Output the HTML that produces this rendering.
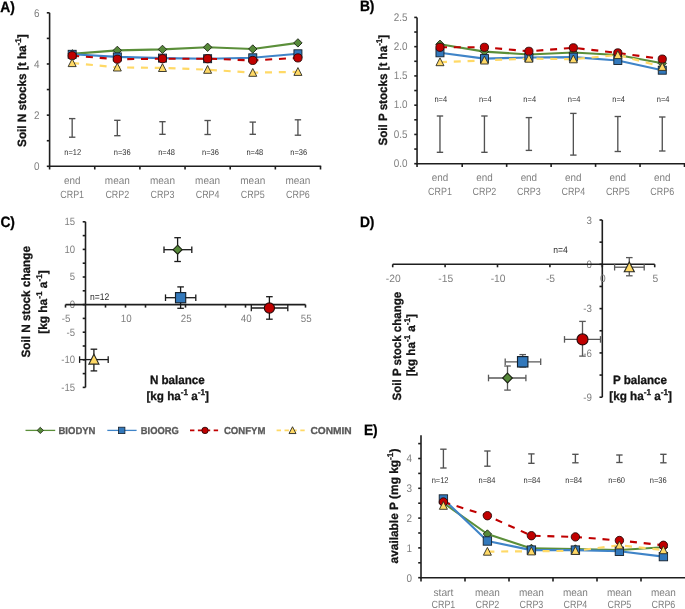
<!DOCTYPE html><html><head><meta charset="utf-8"><style>html,body{margin:0;padding:0;background:#fff;width:685px;height:609px;overflow:hidden;position:relative;}text{font-family:"Liberation Sans", sans-serif;text-rendering:geometricPrecision;}</style></head><body><svg width="685" height="609" viewBox="0 0 685 609" style="position:absolute;left:0;top:0;filter:blur(0.4px)">
<rect width="685" height="609" fill="#ffffff"/>
<text x="0.00" y="0.00" font-size="15" text-anchor="start" fill="#000" font-weight="bold" transform="translate(0.30 12.00) scale(0.92 1)" stroke="#000" stroke-width="0.3">A)</text>
<line x1="49.60" y1="12.82" x2="49.60" y2="166.90" stroke="#1e1e1e" stroke-width="1.6" stroke-linecap="butt"/>
<line x1="46.80" y1="166.30" x2="49.60" y2="166.30" stroke="#1e1e1e" stroke-width="1.6" stroke-linecap="butt"/>
<line x1="46.80" y1="140.72" x2="49.60" y2="140.72" stroke="#1e1e1e" stroke-width="1.6" stroke-linecap="butt"/>
<line x1="46.80" y1="115.14" x2="49.60" y2="115.14" stroke="#1e1e1e" stroke-width="1.6" stroke-linecap="butt"/>
<line x1="46.80" y1="89.56" x2="49.60" y2="89.56" stroke="#1e1e1e" stroke-width="1.6" stroke-linecap="butt"/>
<line x1="46.80" y1="63.98" x2="49.60" y2="63.98" stroke="#1e1e1e" stroke-width="1.6" stroke-linecap="butt"/>
<line x1="46.80" y1="38.40" x2="49.60" y2="38.40" stroke="#1e1e1e" stroke-width="1.6" stroke-linecap="butt"/>
<line x1="46.80" y1="12.82" x2="49.60" y2="12.82" stroke="#1e1e1e" stroke-width="1.6" stroke-linecap="butt"/>
<text x="0.00" y="0.00" font-size="11" text-anchor="end" fill="#7f7f7f" font-weight="normal" transform="translate(39.40 170.20) scale(0.9 1)">0</text>
<text x="0.00" y="0.00" font-size="11" text-anchor="end" fill="#7f7f7f" font-weight="normal" transform="translate(39.40 119.04) scale(0.9 1)">2</text>
<text x="0.00" y="0.00" font-size="11" text-anchor="end" fill="#7f7f7f" font-weight="normal" transform="translate(39.40 67.88) scale(0.9 1)">4</text>
<text x="0.00" y="0.00" font-size="11" text-anchor="end" fill="#7f7f7f" font-weight="normal" transform="translate(39.40 16.72) scale(0.9 1)">6</text>
<line x1="49.00" y1="166.30" x2="321.20" y2="166.30" stroke="#1e1e1e" stroke-width="1.6" stroke-linecap="butt"/>
<line x1="49.60" y1="166.30" x2="49.60" y2="169.50" stroke="#1e1e1e" stroke-width="1.6" stroke-linecap="butt"/>
<line x1="94.75" y1="166.30" x2="94.75" y2="169.50" stroke="#1e1e1e" stroke-width="1.6" stroke-linecap="butt"/>
<line x1="139.90" y1="166.30" x2="139.90" y2="169.50" stroke="#1e1e1e" stroke-width="1.6" stroke-linecap="butt"/>
<line x1="185.05" y1="166.30" x2="185.05" y2="169.50" stroke="#1e1e1e" stroke-width="1.6" stroke-linecap="butt"/>
<line x1="230.20" y1="166.30" x2="230.20" y2="169.50" stroke="#1e1e1e" stroke-width="1.6" stroke-linecap="butt"/>
<line x1="275.35" y1="166.30" x2="275.35" y2="169.50" stroke="#1e1e1e" stroke-width="1.6" stroke-linecap="butt"/>
<line x1="320.50" y1="166.30" x2="320.50" y2="169.50" stroke="#1e1e1e" stroke-width="1.6" stroke-linecap="butt"/>
<text x="72.17" y="184.20" font-size="10.5" text-anchor="middle" fill="#7f7f7f" font-weight="normal" textLength="16.5" lengthAdjust="spacingAndGlyphs">end</text>
<text x="72.17" y="197.80" font-size="10.5" text-anchor="middle" fill="#7f7f7f" font-weight="normal" textLength="23.8" lengthAdjust="spacingAndGlyphs">CRP1</text>
<text x="117.32" y="184.20" font-size="10.5" text-anchor="middle" fill="#7f7f7f" font-weight="normal" textLength="25" lengthAdjust="spacingAndGlyphs">mean</text>
<text x="117.32" y="197.80" font-size="10.5" text-anchor="middle" fill="#7f7f7f" font-weight="normal" textLength="23.8" lengthAdjust="spacingAndGlyphs">CRP2</text>
<text x="162.47" y="184.20" font-size="10.5" text-anchor="middle" fill="#7f7f7f" font-weight="normal" textLength="25" lengthAdjust="spacingAndGlyphs">mean</text>
<text x="162.47" y="197.80" font-size="10.5" text-anchor="middle" fill="#7f7f7f" font-weight="normal" textLength="23.8" lengthAdjust="spacingAndGlyphs">CRP3</text>
<text x="207.62" y="184.20" font-size="10.5" text-anchor="middle" fill="#7f7f7f" font-weight="normal" textLength="25" lengthAdjust="spacingAndGlyphs">mean</text>
<text x="207.62" y="197.80" font-size="10.5" text-anchor="middle" fill="#7f7f7f" font-weight="normal" textLength="23.8" lengthAdjust="spacingAndGlyphs">CRP4</text>
<text x="252.77" y="184.20" font-size="10.5" text-anchor="middle" fill="#7f7f7f" font-weight="normal" textLength="25" lengthAdjust="spacingAndGlyphs">mean</text>
<text x="252.77" y="197.80" font-size="10.5" text-anchor="middle" fill="#7f7f7f" font-weight="normal" textLength="23.8" lengthAdjust="spacingAndGlyphs">CRP5</text>
<text x="297.93" y="184.20" font-size="10.5" text-anchor="middle" fill="#7f7f7f" font-weight="normal" textLength="25" lengthAdjust="spacingAndGlyphs">mean</text>
<text x="297.93" y="197.80" font-size="10.5" text-anchor="middle" fill="#7f7f7f" font-weight="normal" textLength="23.8" lengthAdjust="spacingAndGlyphs">CRP6</text>
<text x="26.20" y="90.60" font-size="12" text-anchor="middle" fill="#141414" font-weight="bold" textLength="112.6" lengthAdjust="spacingAndGlyphs" transform="rotate(-90 26.20 90.60)" stroke="#141414" stroke-width="0.3">Soil N stocks [t ha<tspan baseline-shift="super" font-size="70%">-1</tspan>]</text>
<line x1="72.17" y1="118.60" x2="72.17" y2="137.20" stroke="#525252" stroke-width="1.35" stroke-linecap="butt"/>
<line x1="68.97" y1="118.60" x2="75.38" y2="118.60" stroke="#525252" stroke-width="1.35" stroke-linecap="butt"/>
<line x1="68.97" y1="137.20" x2="75.38" y2="137.20" stroke="#525252" stroke-width="1.35" stroke-linecap="butt"/>
<line x1="117.32" y1="120.30" x2="117.32" y2="135.70" stroke="#525252" stroke-width="1.35" stroke-linecap="butt"/>
<line x1="114.12" y1="120.30" x2="120.52" y2="120.30" stroke="#525252" stroke-width="1.35" stroke-linecap="butt"/>
<line x1="114.12" y1="135.70" x2="120.52" y2="135.70" stroke="#525252" stroke-width="1.35" stroke-linecap="butt"/>
<line x1="162.47" y1="121.70" x2="162.47" y2="134.30" stroke="#525252" stroke-width="1.35" stroke-linecap="butt"/>
<line x1="159.28" y1="121.70" x2="165.67" y2="121.70" stroke="#525252" stroke-width="1.35" stroke-linecap="butt"/>
<line x1="159.28" y1="134.30" x2="165.67" y2="134.30" stroke="#525252" stroke-width="1.35" stroke-linecap="butt"/>
<line x1="207.62" y1="120.50" x2="207.62" y2="134.50" stroke="#525252" stroke-width="1.35" stroke-linecap="butt"/>
<line x1="204.43" y1="120.50" x2="210.82" y2="120.50" stroke="#525252" stroke-width="1.35" stroke-linecap="butt"/>
<line x1="204.43" y1="134.50" x2="210.82" y2="134.50" stroke="#525252" stroke-width="1.35" stroke-linecap="butt"/>
<line x1="252.77" y1="122.10" x2="252.77" y2="134.30" stroke="#525252" stroke-width="1.35" stroke-linecap="butt"/>
<line x1="249.57" y1="122.10" x2="255.97" y2="122.10" stroke="#525252" stroke-width="1.35" stroke-linecap="butt"/>
<line x1="249.57" y1="134.30" x2="255.97" y2="134.30" stroke="#525252" stroke-width="1.35" stroke-linecap="butt"/>
<line x1="297.93" y1="119.80" x2="297.93" y2="135.20" stroke="#525252" stroke-width="1.35" stroke-linecap="butt"/>
<line x1="294.73" y1="119.80" x2="301.12" y2="119.80" stroke="#525252" stroke-width="1.35" stroke-linecap="butt"/>
<line x1="294.73" y1="135.20" x2="301.12" y2="135.20" stroke="#525252" stroke-width="1.35" stroke-linecap="butt"/>
<text x="0.00" y="0.00" font-size="8.3" text-anchor="middle" fill="#2e2e2e" font-weight="normal" transform="translate(72.70 154.70) scale(0.9 1)">n=12</text>
<text x="0.00" y="0.00" font-size="8.3" text-anchor="middle" fill="#2e2e2e" font-weight="normal" transform="translate(122.20 154.70) scale(0.9 1)">n=36</text>
<text x="0.00" y="0.00" font-size="8.3" text-anchor="middle" fill="#2e2e2e" font-weight="normal" transform="translate(166.60 154.70) scale(0.9 1)">n=48</text>
<text x="0.00" y="0.00" font-size="8.3" text-anchor="middle" fill="#2e2e2e" font-weight="normal" transform="translate(210.40 154.70) scale(0.9 1)">n=36</text>
<text x="0.00" y="0.00" font-size="8.3" text-anchor="middle" fill="#2e2e2e" font-weight="normal" transform="translate(254.80 154.70) scale(0.9 1)">n=48</text>
<text x="0.00" y="0.00" font-size="8.3" text-anchor="middle" fill="#2e2e2e" font-weight="normal" transform="translate(298.70 154.70) scale(0.9 1)">n=36</text>
<polyline points="72.17,53.90 117.32,50.40 162.47,49.40 207.62,47.30 252.77,49.00 297.93,42.90" fill="none" stroke="#5b8f3a" stroke-width="2.1" stroke-linejoin="round"/>
<polyline points="72.17,54.30 117.32,56.90 162.47,58.10 207.62,58.70 252.77,57.80 297.93,53.80" fill="none" stroke="#3f84c8" stroke-width="2.1" stroke-linejoin="round"/>
<polyline points="72.17,55.70 117.32,59.20 162.47,58.70 207.62,58.70 252.77,60.40 297.93,57.90" fill="none" stroke="#c00000" stroke-width="2.1" stroke-linejoin="round" stroke-dasharray="7,6.8"/>
<polyline points="72.17,63.00 117.32,67.40 162.47,67.90 207.62,69.70 252.77,72.70 297.93,71.80" fill="none" stroke="#ffd966" stroke-width="2.2" stroke-linejoin="round" stroke-dasharray="7,6.8"/>
<polygon points="72.17,49.70 76.38,53.90 72.17,58.10 67.97,53.90" fill="#578a3a" stroke="#1c2414" stroke-width="0.9"/>
<polygon points="117.32,46.20 121.52,50.40 117.32,54.60 113.12,50.40" fill="#578a3a" stroke="#1c2414" stroke-width="0.9"/>
<polygon points="162.47,45.20 166.67,49.40 162.47,53.60 158.28,49.40" fill="#578a3a" stroke="#1c2414" stroke-width="0.9"/>
<polygon points="207.62,43.10 211.82,47.30 207.62,51.50 203.43,47.30" fill="#578a3a" stroke="#1c2414" stroke-width="0.9"/>
<polygon points="252.77,44.80 256.97,49.00 252.77,53.20 248.57,49.00" fill="#578a3a" stroke="#1c2414" stroke-width="0.9"/>
<polygon points="297.93,38.70 302.12,42.90 297.93,47.10 293.73,42.90" fill="#578a3a" stroke="#1c2414" stroke-width="0.9"/>
<rect x="68.17" y="50.30" width="8.00" height="8.00" fill="#3278bb" stroke="#14202c" stroke-width="0.9"/>
<rect x="113.32" y="52.90" width="8.00" height="8.00" fill="#3278bb" stroke="#14202c" stroke-width="0.9"/>
<rect x="158.47" y="54.10" width="8.00" height="8.00" fill="#3278bb" stroke="#14202c" stroke-width="0.9"/>
<rect x="203.62" y="54.70" width="8.00" height="8.00" fill="#3278bb" stroke="#14202c" stroke-width="0.9"/>
<rect x="248.77" y="53.80" width="8.00" height="8.00" fill="#3278bb" stroke="#14202c" stroke-width="0.9"/>
<rect x="293.93" y="49.80" width="8.00" height="8.00" fill="#3278bb" stroke="#14202c" stroke-width="0.9"/>
<circle cx="72.17" cy="55.70" r="4.10" fill="#c00000" stroke="#2a0808" stroke-width="0.9"/>
<circle cx="117.32" cy="59.20" r="4.10" fill="#c00000" stroke="#2a0808" stroke-width="0.9"/>
<circle cx="162.47" cy="58.70" r="4.10" fill="#c00000" stroke="#2a0808" stroke-width="0.9"/>
<circle cx="207.62" cy="58.70" r="4.10" fill="#c00000" stroke="#2a0808" stroke-width="0.9"/>
<circle cx="252.77" cy="60.40" r="4.10" fill="#c00000" stroke="#2a0808" stroke-width="0.9"/>
<circle cx="297.93" cy="57.90" r="4.10" fill="#c00000" stroke="#2a0808" stroke-width="0.9"/>
<polygon points="72.17,58.80 76.17,66.60 68.17,66.60" fill="#ffd966" stroke="#2a2a22" stroke-width="0.9" stroke-linejoin="miter"/>
<polygon points="117.32,63.20 121.32,71.00 113.32,71.00" fill="#ffd966" stroke="#2a2a22" stroke-width="0.9" stroke-linejoin="miter"/>
<polygon points="162.47,63.70 166.47,71.50 158.47,71.50" fill="#ffd966" stroke="#2a2a22" stroke-width="0.9" stroke-linejoin="miter"/>
<polygon points="207.62,65.50 211.62,73.30 203.62,73.30" fill="#ffd966" stroke="#2a2a22" stroke-width="0.9" stroke-linejoin="miter"/>
<polygon points="252.77,68.50 256.77,76.30 248.77,76.30" fill="#ffd966" stroke="#2a2a22" stroke-width="0.9" stroke-linejoin="miter"/>
<polygon points="297.93,67.60 301.93,75.40 293.93,75.40" fill="#ffd966" stroke="#2a2a22" stroke-width="0.9" stroke-linejoin="miter"/>
<text x="0.00" y="0.00" font-size="15" text-anchor="start" fill="#000" font-weight="bold" transform="translate(359.90 10.90) scale(0.92 1)" stroke="#000" stroke-width="0.3">B)</text>
<line x1="417.05" y1="17.40" x2="417.05" y2="164.30" stroke="#1e1e1e" stroke-width="1.6" stroke-linecap="butt"/>
<line x1="414.25" y1="163.70" x2="417.05" y2="163.70" stroke="#1e1e1e" stroke-width="1.6" stroke-linecap="butt"/>
<line x1="414.25" y1="149.07" x2="417.05" y2="149.07" stroke="#1e1e1e" stroke-width="1.6" stroke-linecap="butt"/>
<line x1="414.25" y1="134.44" x2="417.05" y2="134.44" stroke="#1e1e1e" stroke-width="1.6" stroke-linecap="butt"/>
<line x1="414.25" y1="119.81" x2="417.05" y2="119.81" stroke="#1e1e1e" stroke-width="1.6" stroke-linecap="butt"/>
<line x1="414.25" y1="105.18" x2="417.05" y2="105.18" stroke="#1e1e1e" stroke-width="1.6" stroke-linecap="butt"/>
<line x1="414.25" y1="90.55" x2="417.05" y2="90.55" stroke="#1e1e1e" stroke-width="1.6" stroke-linecap="butt"/>
<line x1="414.25" y1="75.92" x2="417.05" y2="75.92" stroke="#1e1e1e" stroke-width="1.6" stroke-linecap="butt"/>
<line x1="414.25" y1="61.29" x2="417.05" y2="61.29" stroke="#1e1e1e" stroke-width="1.6" stroke-linecap="butt"/>
<line x1="414.25" y1="46.66" x2="417.05" y2="46.66" stroke="#1e1e1e" stroke-width="1.6" stroke-linecap="butt"/>
<line x1="414.25" y1="32.03" x2="417.05" y2="32.03" stroke="#1e1e1e" stroke-width="1.6" stroke-linecap="butt"/>
<line x1="414.25" y1="17.40" x2="417.05" y2="17.40" stroke="#1e1e1e" stroke-width="1.6" stroke-linecap="butt"/>
<text x="0.00" y="0.00" font-size="11" text-anchor="end" fill="#7f7f7f" font-weight="normal" transform="translate(407.50 167.00) scale(0.9 1)">0.0</text>
<text x="0.00" y="0.00" font-size="11" text-anchor="end" fill="#7f7f7f" font-weight="normal" transform="translate(407.50 137.74) scale(0.9 1)">0.5</text>
<text x="0.00" y="0.00" font-size="11" text-anchor="end" fill="#7f7f7f" font-weight="normal" transform="translate(407.50 108.48) scale(0.9 1)">1.0</text>
<text x="0.00" y="0.00" font-size="11" text-anchor="end" fill="#7f7f7f" font-weight="normal" transform="translate(407.50 79.22) scale(0.9 1)">1.5</text>
<text x="0.00" y="0.00" font-size="11" text-anchor="end" fill="#7f7f7f" font-weight="normal" transform="translate(407.50 49.96) scale(0.9 1)">2.0</text>
<text x="0.00" y="0.00" font-size="11" text-anchor="end" fill="#7f7f7f" font-weight="normal" transform="translate(407.50 20.70) scale(0.9 1)">2.5</text>
<line x1="416.45" y1="163.70" x2="685.00" y2="163.70" stroke="#1e1e1e" stroke-width="1.6" stroke-linecap="butt"/>
<line x1="417.05" y1="163.70" x2="417.05" y2="166.90" stroke="#1e1e1e" stroke-width="1.6" stroke-linecap="butt"/>
<line x1="462.20" y1="163.70" x2="462.20" y2="166.90" stroke="#1e1e1e" stroke-width="1.6" stroke-linecap="butt"/>
<line x1="506.66" y1="163.70" x2="506.66" y2="166.90" stroke="#1e1e1e" stroke-width="1.6" stroke-linecap="butt"/>
<line x1="551.12" y1="163.70" x2="551.12" y2="166.90" stroke="#1e1e1e" stroke-width="1.6" stroke-linecap="butt"/>
<line x1="595.58" y1="163.70" x2="595.58" y2="166.90" stroke="#1e1e1e" stroke-width="1.6" stroke-linecap="butt"/>
<line x1="640.04" y1="163.70" x2="640.04" y2="166.90" stroke="#1e1e1e" stroke-width="1.6" stroke-linecap="butt"/>
<line x1="684.50" y1="163.70" x2="684.50" y2="166.90" stroke="#1e1e1e" stroke-width="1.6" stroke-linecap="butt"/>
<text x="439.97" y="181.20" font-size="10.5" text-anchor="middle" fill="#7f7f7f" font-weight="normal" textLength="16.5" lengthAdjust="spacingAndGlyphs">end</text>
<text x="439.97" y="194.90" font-size="10.5" text-anchor="middle" fill="#7f7f7f" font-weight="normal" textLength="23.8" lengthAdjust="spacingAndGlyphs">CRP1</text>
<text x="484.43" y="181.20" font-size="10.5" text-anchor="middle" fill="#7f7f7f" font-weight="normal" textLength="16.5" lengthAdjust="spacingAndGlyphs">end</text>
<text x="484.43" y="194.90" font-size="10.5" text-anchor="middle" fill="#7f7f7f" font-weight="normal" textLength="23.8" lengthAdjust="spacingAndGlyphs">CRP2</text>
<text x="528.89" y="181.20" font-size="10.5" text-anchor="middle" fill="#7f7f7f" font-weight="normal" textLength="16.5" lengthAdjust="spacingAndGlyphs">end</text>
<text x="528.89" y="194.90" font-size="10.5" text-anchor="middle" fill="#7f7f7f" font-weight="normal" textLength="23.8" lengthAdjust="spacingAndGlyphs">CRP3</text>
<text x="573.35" y="181.20" font-size="10.5" text-anchor="middle" fill="#7f7f7f" font-weight="normal" textLength="16.5" lengthAdjust="spacingAndGlyphs">end</text>
<text x="573.35" y="194.90" font-size="10.5" text-anchor="middle" fill="#7f7f7f" font-weight="normal" textLength="23.8" lengthAdjust="spacingAndGlyphs">CRP4</text>
<text x="617.81" y="181.20" font-size="10.5" text-anchor="middle" fill="#7f7f7f" font-weight="normal" textLength="16.5" lengthAdjust="spacingAndGlyphs">end</text>
<text x="617.81" y="194.90" font-size="10.5" text-anchor="middle" fill="#7f7f7f" font-weight="normal" textLength="23.8" lengthAdjust="spacingAndGlyphs">CRP5</text>
<text x="662.27" y="181.20" font-size="10.5" text-anchor="middle" fill="#7f7f7f" font-weight="normal" textLength="16.5" lengthAdjust="spacingAndGlyphs">end</text>
<text x="662.27" y="194.90" font-size="10.5" text-anchor="middle" fill="#7f7f7f" font-weight="normal" textLength="23.8" lengthAdjust="spacingAndGlyphs">CRP6</text>
<text x="387.30" y="90.20" font-size="12" text-anchor="middle" fill="#141414" font-weight="bold" textLength="110.8" lengthAdjust="spacingAndGlyphs" transform="rotate(-90 387.30 90.20)" stroke="#141414" stroke-width="0.3">Soil P stocks [t ha<tspan baseline-shift="super" font-size="70%">-1</tspan>]</text>
<line x1="439.97" y1="116.00" x2="439.97" y2="152.30" stroke="#525252" stroke-width="1.35" stroke-linecap="butt"/>
<line x1="436.77" y1="116.00" x2="443.17" y2="116.00" stroke="#525252" stroke-width="1.35" stroke-linecap="butt"/>
<line x1="436.77" y1="152.30" x2="443.17" y2="152.30" stroke="#525252" stroke-width="1.35" stroke-linecap="butt"/>
<line x1="484.43" y1="116.00" x2="484.43" y2="152.30" stroke="#525252" stroke-width="1.35" stroke-linecap="butt"/>
<line x1="481.23" y1="116.00" x2="487.63" y2="116.00" stroke="#525252" stroke-width="1.35" stroke-linecap="butt"/>
<line x1="481.23" y1="152.30" x2="487.63" y2="152.30" stroke="#525252" stroke-width="1.35" stroke-linecap="butt"/>
<line x1="528.89" y1="117.60" x2="528.89" y2="150.40" stroke="#525252" stroke-width="1.35" stroke-linecap="butt"/>
<line x1="525.69" y1="117.60" x2="532.09" y2="117.60" stroke="#525252" stroke-width="1.35" stroke-linecap="butt"/>
<line x1="525.69" y1="150.40" x2="532.09" y2="150.40" stroke="#525252" stroke-width="1.35" stroke-linecap="butt"/>
<line x1="573.35" y1="113.40" x2="573.35" y2="155.10" stroke="#525252" stroke-width="1.35" stroke-linecap="butt"/>
<line x1="570.15" y1="113.40" x2="576.55" y2="113.40" stroke="#525252" stroke-width="1.35" stroke-linecap="butt"/>
<line x1="570.15" y1="155.10" x2="576.55" y2="155.10" stroke="#525252" stroke-width="1.35" stroke-linecap="butt"/>
<line x1="617.81" y1="116.50" x2="617.81" y2="151.50" stroke="#525252" stroke-width="1.35" stroke-linecap="butt"/>
<line x1="614.61" y1="116.50" x2="621.01" y2="116.50" stroke="#525252" stroke-width="1.35" stroke-linecap="butt"/>
<line x1="614.61" y1="151.50" x2="621.01" y2="151.50" stroke="#525252" stroke-width="1.35" stroke-linecap="butt"/>
<line x1="662.27" y1="117.00" x2="662.27" y2="151.00" stroke="#525252" stroke-width="1.35" stroke-linecap="butt"/>
<line x1="659.07" y1="117.00" x2="665.47" y2="117.00" stroke="#525252" stroke-width="1.35" stroke-linecap="butt"/>
<line x1="659.07" y1="151.00" x2="665.47" y2="151.00" stroke="#525252" stroke-width="1.35" stroke-linecap="butt"/>
<text x="0.00" y="0.00" font-size="8.3" text-anchor="middle" fill="#2e2e2e" font-weight="normal" transform="translate(440.77 102.30) scale(0.9 1)">n=4</text>
<text x="0.00" y="0.00" font-size="8.3" text-anchor="middle" fill="#2e2e2e" font-weight="normal" transform="translate(485.23 102.30) scale(0.9 1)">n=4</text>
<text x="0.00" y="0.00" font-size="8.3" text-anchor="middle" fill="#2e2e2e" font-weight="normal" transform="translate(529.69 102.30) scale(0.9 1)">n=4</text>
<text x="0.00" y="0.00" font-size="8.3" text-anchor="middle" fill="#2e2e2e" font-weight="normal" transform="translate(574.15 102.30) scale(0.9 1)">n=4</text>
<text x="0.00" y="0.00" font-size="8.3" text-anchor="middle" fill="#2e2e2e" font-weight="normal" transform="translate(618.61 102.30) scale(0.9 1)">n=4</text>
<text x="0.00" y="0.00" font-size="8.3" text-anchor="middle" fill="#2e2e2e" font-weight="normal" transform="translate(663.07 102.30) scale(0.9 1)">n=4</text>
<polyline points="439.97,44.30 484.43,51.60 528.89,54.50 573.35,52.50 617.81,55.00 662.27,63.30" fill="none" stroke="#5b8f3a" stroke-width="2.1" stroke-linejoin="round"/>
<polyline points="439.97,52.80 484.43,58.60 528.89,57.50 573.35,57.10 617.81,60.50 662.27,70.20" fill="none" stroke="#3f84c8" stroke-width="2.1" stroke-linejoin="round"/>
<polyline points="439.97,47.30 484.43,47.30 528.89,51.30 573.35,47.80 617.81,52.90 662.27,59.10" fill="none" stroke="#c00000" stroke-width="2.1" stroke-linejoin="round" stroke-dasharray="7,6.8"/>
<polyline points="439.97,62.10 484.43,60.40 528.89,58.60 573.35,59.20 617.81,55.00 662.27,66.80" fill="none" stroke="#ffd966" stroke-width="2.2" stroke-linejoin="round" stroke-dasharray="7,6.8"/>
<polygon points="439.97,40.10 444.17,44.30 439.97,48.50 435.77,44.30" fill="#578a3a" stroke="#1c2414" stroke-width="0.9"/>
<polygon points="484.43,47.40 488.63,51.60 484.43,55.80 480.23,51.60" fill="#578a3a" stroke="#1c2414" stroke-width="0.9"/>
<polygon points="528.89,50.30 533.09,54.50 528.89,58.70 524.69,54.50" fill="#578a3a" stroke="#1c2414" stroke-width="0.9"/>
<polygon points="573.35,48.30 577.55,52.50 573.35,56.70 569.15,52.50" fill="#578a3a" stroke="#1c2414" stroke-width="0.9"/>
<polygon points="617.81,50.80 622.01,55.00 617.81,59.20 613.61,55.00" fill="#578a3a" stroke="#1c2414" stroke-width="0.9"/>
<polygon points="662.27,59.10 666.47,63.30 662.27,67.50 658.07,63.30" fill="#578a3a" stroke="#1c2414" stroke-width="0.9"/>
<rect x="435.97" y="48.80" width="8.00" height="8.00" fill="#3278bb" stroke="#14202c" stroke-width="0.9"/>
<rect x="480.43" y="54.60" width="8.00" height="8.00" fill="#3278bb" stroke="#14202c" stroke-width="0.9"/>
<rect x="524.89" y="53.50" width="8.00" height="8.00" fill="#3278bb" stroke="#14202c" stroke-width="0.9"/>
<rect x="569.35" y="53.10" width="8.00" height="8.00" fill="#3278bb" stroke="#14202c" stroke-width="0.9"/>
<rect x="613.81" y="56.50" width="8.00" height="8.00" fill="#3278bb" stroke="#14202c" stroke-width="0.9"/>
<rect x="658.27" y="66.20" width="8.00" height="8.00" fill="#3278bb" stroke="#14202c" stroke-width="0.9"/>
<circle cx="439.97" cy="47.30" r="4.10" fill="#c00000" stroke="#2a0808" stroke-width="0.9"/>
<circle cx="484.43" cy="47.30" r="4.10" fill="#c00000" stroke="#2a0808" stroke-width="0.9"/>
<circle cx="528.89" cy="51.30" r="4.10" fill="#c00000" stroke="#2a0808" stroke-width="0.9"/>
<circle cx="573.35" cy="47.80" r="4.10" fill="#c00000" stroke="#2a0808" stroke-width="0.9"/>
<circle cx="617.81" cy="52.90" r="4.10" fill="#c00000" stroke="#2a0808" stroke-width="0.9"/>
<circle cx="662.27" cy="59.10" r="4.10" fill="#c00000" stroke="#2a0808" stroke-width="0.9"/>
<polygon points="439.97,57.90 443.97,65.70 435.97,65.70" fill="#ffd966" stroke="#2a2a22" stroke-width="0.9" stroke-linejoin="miter"/>
<polygon points="484.43,56.20 488.43,64.00 480.43,64.00" fill="#ffd966" stroke="#2a2a22" stroke-width="0.9" stroke-linejoin="miter"/>
<polygon points="528.89,54.40 532.89,62.20 524.89,62.20" fill="#ffd966" stroke="#2a2a22" stroke-width="0.9" stroke-linejoin="miter"/>
<polygon points="573.35,55.00 577.35,62.80 569.35,62.80" fill="#ffd966" stroke="#2a2a22" stroke-width="0.9" stroke-linejoin="miter"/>
<polygon points="617.81,50.80 621.81,58.60 613.81,58.60" fill="#ffd966" stroke="#2a2a22" stroke-width="0.9" stroke-linejoin="miter"/>
<polygon points="662.27,62.60 666.27,70.40 658.27,70.40" fill="#ffd966" stroke="#2a2a22" stroke-width="0.9" stroke-linejoin="miter"/>
<text x="0.00" y="0.00" font-size="15" text-anchor="start" fill="#000" font-weight="bold" transform="translate(0.40 226.90) scale(0.92 1)" stroke="#000" stroke-width="0.3">C)</text>
<line x1="85.50" y1="221.80" x2="85.50" y2="387.40" stroke="#1e1e1e" stroke-width="1.6" stroke-linecap="butt"/>
<line x1="82.70" y1="387.40" x2="85.50" y2="387.40" stroke="#1e1e1e" stroke-width="1.6" stroke-linecap="butt"/>
<line x1="82.70" y1="373.60" x2="85.50" y2="373.60" stroke="#1e1e1e" stroke-width="1.6" stroke-linecap="butt"/>
<line x1="82.70" y1="359.80" x2="85.50" y2="359.80" stroke="#1e1e1e" stroke-width="1.6" stroke-linecap="butt"/>
<line x1="82.70" y1="346.00" x2="85.50" y2="346.00" stroke="#1e1e1e" stroke-width="1.6" stroke-linecap="butt"/>
<line x1="82.70" y1="332.20" x2="85.50" y2="332.20" stroke="#1e1e1e" stroke-width="1.6" stroke-linecap="butt"/>
<line x1="82.70" y1="318.40" x2="85.50" y2="318.40" stroke="#1e1e1e" stroke-width="1.6" stroke-linecap="butt"/>
<line x1="82.70" y1="304.60" x2="85.50" y2="304.60" stroke="#1e1e1e" stroke-width="1.6" stroke-linecap="butt"/>
<line x1="82.70" y1="290.80" x2="85.50" y2="290.80" stroke="#1e1e1e" stroke-width="1.6" stroke-linecap="butt"/>
<line x1="82.70" y1="277.00" x2="85.50" y2="277.00" stroke="#1e1e1e" stroke-width="1.6" stroke-linecap="butt"/>
<line x1="82.70" y1="263.20" x2="85.50" y2="263.20" stroke="#1e1e1e" stroke-width="1.6" stroke-linecap="butt"/>
<line x1="82.70" y1="249.40" x2="85.50" y2="249.40" stroke="#1e1e1e" stroke-width="1.6" stroke-linecap="butt"/>
<line x1="82.70" y1="235.60" x2="85.50" y2="235.60" stroke="#1e1e1e" stroke-width="1.6" stroke-linecap="butt"/>
<line x1="82.70" y1="221.80" x2="85.50" y2="221.80" stroke="#1e1e1e" stroke-width="1.6" stroke-linecap="butt"/>
<text x="0.00" y="0.00" font-size="10.6" text-anchor="end" fill="#7f7f7f" font-weight="normal" transform="translate(75.00 225.10) scale(0.9 1)">15</text>
<text x="0.00" y="0.00" font-size="10.6" text-anchor="end" fill="#7f7f7f" font-weight="normal" transform="translate(75.00 252.70) scale(0.9 1)">10</text>
<text x="0.00" y="0.00" font-size="10.6" text-anchor="end" fill="#7f7f7f" font-weight="normal" transform="translate(75.00 280.30) scale(0.9 1)">5</text>
<text x="0.00" y="0.00" font-size="10.6" text-anchor="end" fill="#7f7f7f" font-weight="normal" transform="translate(75.00 307.90) scale(0.9 1)">0</text>
<text x="0.00" y="0.00" font-size="10.6" text-anchor="end" fill="#7f7f7f" font-weight="normal" transform="translate(75.00 335.50) scale(0.9 1)">-5</text>
<text x="0.00" y="0.00" font-size="10.6" text-anchor="end" fill="#7f7f7f" font-weight="normal" transform="translate(75.00 363.10) scale(0.9 1)">-10</text>
<text x="0.00" y="0.00" font-size="10.6" text-anchor="end" fill="#7f7f7f" font-weight="normal" transform="translate(75.00 390.70) scale(0.9 1)">-15</text>
<line x1="65.50" y1="304.60" x2="305.50" y2="304.60" stroke="#1e1e1e" stroke-width="1.6" stroke-linecap="butt"/>
<line x1="65.50" y1="304.60" x2="65.50" y2="307.60" stroke="#1e1e1e" stroke-width="1.6" stroke-linecap="butt"/>
<line x1="105.50" y1="304.60" x2="105.50" y2="307.60" stroke="#1e1e1e" stroke-width="1.6" stroke-linecap="butt"/>
<line x1="125.50" y1="304.60" x2="125.50" y2="307.60" stroke="#1e1e1e" stroke-width="1.6" stroke-linecap="butt"/>
<line x1="145.50" y1="304.60" x2="145.50" y2="307.60" stroke="#1e1e1e" stroke-width="1.6" stroke-linecap="butt"/>
<line x1="185.50" y1="304.60" x2="185.50" y2="307.60" stroke="#1e1e1e" stroke-width="1.6" stroke-linecap="butt"/>
<line x1="225.50" y1="304.60" x2="225.50" y2="307.60" stroke="#1e1e1e" stroke-width="1.6" stroke-linecap="butt"/>
<line x1="245.50" y1="304.60" x2="245.50" y2="307.60" stroke="#1e1e1e" stroke-width="1.6" stroke-linecap="butt"/>
<line x1="305.50" y1="304.60" x2="305.50" y2="307.60" stroke="#1e1e1e" stroke-width="1.6" stroke-linecap="butt"/>
<text x="0.00" y="0.00" font-size="10.6" text-anchor="middle" fill="#7f7f7f" font-weight="normal" transform="translate(66.20 322.40) scale(0.92 1)">-5</text>
<text x="0.00" y="0.00" font-size="10.6" text-anchor="middle" fill="#7f7f7f" font-weight="normal" transform="translate(126.20 322.40) scale(0.92 1)">10</text>
<text x="0.00" y="0.00" font-size="10.6" text-anchor="middle" fill="#7f7f7f" font-weight="normal" transform="translate(186.20 322.40) scale(0.92 1)">25</text>
<text x="0.00" y="0.00" font-size="10.6" text-anchor="middle" fill="#7f7f7f" font-weight="normal" transform="translate(246.20 322.40) scale(0.92 1)">40</text>
<text x="0.00" y="0.00" font-size="10.6" text-anchor="middle" fill="#7f7f7f" font-weight="normal" transform="translate(306.20 322.40) scale(0.92 1)">55</text>
<text x="0.00" y="0.00" font-size="9.5" text-anchor="start" fill="#2e2e2e" font-weight="normal" transform="translate(90.00 299.90) scale(0.9 1)">n=12</text>
<text x="30.50" y="301.80" font-size="12" text-anchor="middle" fill="#141414" font-weight="bold" textLength="111.5" lengthAdjust="spacingAndGlyphs" transform="rotate(-90 30.50 301.80)" stroke="#141414" stroke-width="0.3">Soil N stock change</text>
<text x="46.80" y="302.00" font-size="12" text-anchor="middle" fill="#141414" font-weight="bold" textLength="63.6" lengthAdjust="spacingAndGlyphs" transform="rotate(-90 46.80 302.00)" stroke="#141414" stroke-width="0.3">[kg ha<tspan baseline-shift="super" font-size="70%">-1</tspan> a<tspan baseline-shift="super" font-size="70%">-1</tspan>]</text>
<text x="177.35" y="383.90" font-size="12" text-anchor="middle" fill="#141414" font-weight="bold" textLength="54.9" lengthAdjust="spacingAndGlyphs" stroke="#141414" stroke-width="0.3">N balance</text>
<text x="177.65" y="399.80" font-size="12" text-anchor="middle" fill="#141414" font-weight="bold" textLength="62.5" lengthAdjust="spacingAndGlyphs" stroke="#141414" stroke-width="0.3">[kg ha<tspan baseline-shift="super" font-size="70%">-1</tspan> a<tspan baseline-shift="super" font-size="70%">-1</tspan>]</text>
<line x1="177.60" y1="237.70" x2="177.60" y2="261.50" stroke="#1a1a1a" stroke-width="1.3" stroke-linecap="butt"/>
<line x1="174.30" y1="237.70" x2="180.90" y2="237.70" stroke="#1a1a1a" stroke-width="1.3" stroke-linecap="butt"/>
<line x1="174.30" y1="261.50" x2="180.90" y2="261.50" stroke="#1a1a1a" stroke-width="1.3" stroke-linecap="butt"/>
<line x1="164.00" y1="249.70" x2="191.80" y2="249.70" stroke="#1a1a1a" stroke-width="1.3" stroke-linecap="butt"/>
<line x1="164.00" y1="246.40" x2="164.00" y2="253.00" stroke="#1a1a1a" stroke-width="1.3" stroke-linecap="butt"/>
<line x1="191.80" y1="246.40" x2="191.80" y2="253.00" stroke="#1a1a1a" stroke-width="1.3" stroke-linecap="butt"/>
<polygon points="177.60,245.19 182.11,249.70 177.60,254.21 173.09,249.70" fill="#578a3a" stroke="#1c2414" stroke-width="1.15"/>
<line x1="180.60" y1="286.90" x2="180.60" y2="308.30" stroke="#1a1a1a" stroke-width="1.3" stroke-linecap="butt"/>
<line x1="177.30" y1="286.90" x2="183.90" y2="286.90" stroke="#1a1a1a" stroke-width="1.3" stroke-linecap="butt"/>
<line x1="177.30" y1="308.30" x2="183.90" y2="308.30" stroke="#1a1a1a" stroke-width="1.3" stroke-linecap="butt"/>
<line x1="165.50" y1="297.70" x2="195.80" y2="297.70" stroke="#1a1a1a" stroke-width="1.3" stroke-linecap="butt"/>
<line x1="165.50" y1="294.40" x2="165.50" y2="301.00" stroke="#1a1a1a" stroke-width="1.3" stroke-linecap="butt"/>
<line x1="195.80" y1="294.40" x2="195.80" y2="301.00" stroke="#1a1a1a" stroke-width="1.3" stroke-linecap="butt"/>
<rect x="175.50" y="292.60" width="10.20" height="10.20" fill="#3278bb" stroke="#14202c" stroke-width="1.15"/>
<line x1="269.40" y1="296.70" x2="269.40" y2="319.20" stroke="#1a1a1a" stroke-width="1.3" stroke-linecap="butt"/>
<line x1="266.10" y1="296.70" x2="272.70" y2="296.70" stroke="#1a1a1a" stroke-width="1.3" stroke-linecap="butt"/>
<line x1="266.10" y1="319.20" x2="272.70" y2="319.20" stroke="#1a1a1a" stroke-width="1.3" stroke-linecap="butt"/>
<line x1="251.30" y1="308.00" x2="287.80" y2="308.00" stroke="#1a1a1a" stroke-width="1.3" stroke-linecap="butt"/>
<line x1="251.30" y1="304.70" x2="251.30" y2="311.30" stroke="#1a1a1a" stroke-width="1.3" stroke-linecap="butt"/>
<line x1="287.80" y1="304.70" x2="287.80" y2="311.30" stroke="#1a1a1a" stroke-width="1.3" stroke-linecap="butt"/>
<circle cx="269.40" cy="308.00" r="5.10" fill="#c00000" stroke="#2a0808" stroke-width="1.15"/>
<line x1="93.90" y1="349.20" x2="93.90" y2="370.90" stroke="#1a1a1a" stroke-width="1.3" stroke-linecap="butt"/>
<line x1="90.60" y1="349.20" x2="97.20" y2="349.20" stroke="#1a1a1a" stroke-width="1.3" stroke-linecap="butt"/>
<line x1="90.60" y1="370.90" x2="97.20" y2="370.90" stroke="#1a1a1a" stroke-width="1.3" stroke-linecap="butt"/>
<line x1="79.60" y1="359.60" x2="108.20" y2="359.60" stroke="#1a1a1a" stroke-width="1.3" stroke-linecap="butt"/>
<line x1="79.60" y1="356.30" x2="79.60" y2="362.90" stroke="#1a1a1a" stroke-width="1.3" stroke-linecap="butt"/>
<line x1="108.20" y1="356.30" x2="108.20" y2="362.90" stroke="#1a1a1a" stroke-width="1.3" stroke-linecap="butt"/>
<polygon points="93.90,354.35 98.90,364.10 88.90,364.10" fill="#ffd966" stroke="#2a2a22" stroke-width="1.15" stroke-linejoin="miter"/>
<text x="0.00" y="0.00" font-size="15" text-anchor="start" fill="#000" font-weight="bold" transform="translate(359.90 226.90) scale(0.92 1)" stroke="#000" stroke-width="0.3">D)</text>
<line x1="602.30" y1="219.99" x2="602.30" y2="397.23" stroke="#1e1e1e" stroke-width="1.6" stroke-linecap="butt"/>
<line x1="599.50" y1="397.23" x2="602.30" y2="397.23" stroke="#1e1e1e" stroke-width="1.6" stroke-linecap="butt"/>
<line x1="599.50" y1="375.07" x2="602.30" y2="375.07" stroke="#1e1e1e" stroke-width="1.6" stroke-linecap="butt"/>
<line x1="599.50" y1="352.92" x2="602.30" y2="352.92" stroke="#1e1e1e" stroke-width="1.6" stroke-linecap="butt"/>
<line x1="599.50" y1="330.76" x2="602.30" y2="330.76" stroke="#1e1e1e" stroke-width="1.6" stroke-linecap="butt"/>
<line x1="599.50" y1="308.61" x2="602.30" y2="308.61" stroke="#1e1e1e" stroke-width="1.6" stroke-linecap="butt"/>
<line x1="599.50" y1="286.46" x2="602.30" y2="286.46" stroke="#1e1e1e" stroke-width="1.6" stroke-linecap="butt"/>
<line x1="599.50" y1="264.30" x2="602.30" y2="264.30" stroke="#1e1e1e" stroke-width="1.6" stroke-linecap="butt"/>
<line x1="599.50" y1="242.15" x2="602.30" y2="242.15" stroke="#1e1e1e" stroke-width="1.6" stroke-linecap="butt"/>
<line x1="599.50" y1="219.99" x2="602.30" y2="219.99" stroke="#1e1e1e" stroke-width="1.6" stroke-linecap="butt"/>
<text x="0.00" y="0.00" font-size="10.6" text-anchor="end" fill="#7f7f7f" font-weight="normal" transform="translate(591.90 223.79) scale(0.92 1)">3</text>
<text x="0.00" y="0.00" font-size="10.6" text-anchor="end" fill="#7f7f7f" font-weight="normal" transform="translate(591.90 268.10) scale(0.92 1)">0</text>
<text x="0.00" y="0.00" font-size="10.6" text-anchor="end" fill="#7f7f7f" font-weight="normal" transform="translate(591.90 312.41) scale(0.92 1)">-3</text>
<text x="0.00" y="0.00" font-size="10.6" text-anchor="end" fill="#7f7f7f" font-weight="normal" transform="translate(591.90 356.72) scale(0.92 1)">-6</text>
<text x="0.00" y="0.00" font-size="10.6" text-anchor="end" fill="#7f7f7f" font-weight="normal" transform="translate(591.90 401.03) scale(0.92 1)">-9</text>
<line x1="392.70" y1="264.30" x2="654.70" y2="264.30" stroke="#1e1e1e" stroke-width="1.6" stroke-linecap="butt"/>
<line x1="392.70" y1="264.30" x2="392.70" y2="267.30" stroke="#1e1e1e" stroke-width="1.6" stroke-linecap="butt"/>
<line x1="445.10" y1="264.30" x2="445.10" y2="267.30" stroke="#1e1e1e" stroke-width="1.6" stroke-linecap="butt"/>
<line x1="497.50" y1="264.30" x2="497.50" y2="267.30" stroke="#1e1e1e" stroke-width="1.6" stroke-linecap="butt"/>
<line x1="549.90" y1="264.30" x2="549.90" y2="267.30" stroke="#1e1e1e" stroke-width="1.6" stroke-linecap="butt"/>
<line x1="602.30" y1="264.30" x2="602.30" y2="267.30" stroke="#1e1e1e" stroke-width="1.6" stroke-linecap="butt"/>
<line x1="654.70" y1="264.30" x2="654.70" y2="267.30" stroke="#1e1e1e" stroke-width="1.6" stroke-linecap="butt"/>
<text x="0.00" y="0.00" font-size="10.6" text-anchor="middle" fill="#7f7f7f" font-weight="normal" transform="translate(393.30 282.40) scale(0.97 1)">-20</text>
<text x="0.00" y="0.00" font-size="10.6" text-anchor="middle" fill="#7f7f7f" font-weight="normal" transform="translate(445.70 282.40) scale(0.97 1)">-15</text>
<text x="0.00" y="0.00" font-size="10.6" text-anchor="middle" fill="#7f7f7f" font-weight="normal" transform="translate(498.10 282.40) scale(0.97 1)">-10</text>
<text x="0.00" y="0.00" font-size="10.6" text-anchor="middle" fill="#7f7f7f" font-weight="normal" transform="translate(550.50 282.40) scale(0.97 1)">-5</text>
<text x="0.00" y="0.00" font-size="10.6" text-anchor="middle" fill="#7f7f7f" font-weight="normal" transform="translate(602.90 282.40) scale(0.97 1)">0</text>
<text x="0.00" y="0.00" font-size="10.6" text-anchor="middle" fill="#7f7f7f" font-weight="normal" transform="translate(655.30 282.40) scale(0.97 1)">5</text>
<text x="0.00" y="0.00" font-size="9.5" text-anchor="middle" fill="#2e2e2e" font-weight="normal" transform="translate(560.50 253.00) scale(0.9 1)">n=4</text>
<text x="401.30" y="346.10" font-size="12" text-anchor="middle" fill="#141414" font-weight="bold" textLength="108.6" lengthAdjust="spacingAndGlyphs" transform="rotate(-90 401.30 346.10)" stroke="#141414" stroke-width="0.3">Soil P stock change</text>
<text x="415.20" y="345.20" font-size="12" text-anchor="middle" fill="#141414" font-weight="bold" textLength="62.1" lengthAdjust="spacingAndGlyphs" transform="rotate(-90 415.20 345.20)" stroke="#141414" stroke-width="0.3">[kg ha<tspan baseline-shift="super" font-size="70%">-1</tspan> a<tspan baseline-shift="super" font-size="70%">-1</tspan>]</text>
<text x="640.00" y="384.20" font-size="12" text-anchor="middle" fill="#141414" font-weight="bold" textLength="54" lengthAdjust="spacingAndGlyphs" stroke="#141414" stroke-width="0.3">P balance</text>
<text x="640.65" y="400.40" font-size="12" text-anchor="middle" fill="#141414" font-weight="bold" textLength="62.7" lengthAdjust="spacingAndGlyphs" stroke="#141414" stroke-width="0.3">[kg ha<tspan baseline-shift="super" font-size="70%">-1</tspan> a<tspan baseline-shift="super" font-size="70%">-1</tspan>]</text>
<line x1="629.30" y1="257.60" x2="629.30" y2="275.80" stroke="#595959" stroke-width="1.3" stroke-linecap="butt"/>
<line x1="626.00" y1="257.60" x2="632.60" y2="257.60" stroke="#595959" stroke-width="1.3" stroke-linecap="butt"/>
<line x1="626.00" y1="275.80" x2="632.60" y2="275.80" stroke="#595959" stroke-width="1.3" stroke-linecap="butt"/>
<line x1="614.60" y1="267.20" x2="644.20" y2="267.20" stroke="#595959" stroke-width="1.3" stroke-linecap="butt"/>
<line x1="614.60" y1="263.90" x2="614.60" y2="270.50" stroke="#595959" stroke-width="1.3" stroke-linecap="butt"/>
<line x1="644.20" y1="263.90" x2="644.20" y2="270.50" stroke="#595959" stroke-width="1.3" stroke-linecap="butt"/>
<polygon points="629.30,261.95 634.30,271.70 624.30,271.70" fill="#ffd966" stroke="#2a2a22" stroke-width="1.15" stroke-linejoin="miter"/>
<line x1="582.50" y1="321.40" x2="582.50" y2="356.10" stroke="#595959" stroke-width="1.3" stroke-linecap="butt"/>
<line x1="579.20" y1="321.40" x2="585.80" y2="321.40" stroke="#595959" stroke-width="1.3" stroke-linecap="butt"/>
<line x1="579.20" y1="356.10" x2="585.80" y2="356.10" stroke="#595959" stroke-width="1.3" stroke-linecap="butt"/>
<line x1="564.50" y1="339.40" x2="600.50" y2="339.40" stroke="#595959" stroke-width="1.3" stroke-linecap="butt"/>
<line x1="564.50" y1="336.10" x2="564.50" y2="342.70" stroke="#595959" stroke-width="1.3" stroke-linecap="butt"/>
<line x1="600.50" y1="336.10" x2="600.50" y2="342.70" stroke="#595959" stroke-width="1.3" stroke-linecap="butt"/>
<circle cx="582.50" cy="339.40" r="5.50" fill="#c00000" stroke="#2a0808" stroke-width="1.15"/>
<line x1="522.70" y1="354.60" x2="522.70" y2="367.00" stroke="#595959" stroke-width="1.3" stroke-linecap="butt"/>
<line x1="519.40" y1="354.60" x2="526.00" y2="354.60" stroke="#595959" stroke-width="1.3" stroke-linecap="butt"/>
<line x1="519.40" y1="367.00" x2="526.00" y2="367.00" stroke="#595959" stroke-width="1.3" stroke-linecap="butt"/>
<line x1="505.20" y1="361.80" x2="540.70" y2="361.80" stroke="#595959" stroke-width="1.3" stroke-linecap="butt"/>
<line x1="505.20" y1="358.50" x2="505.20" y2="365.10" stroke="#595959" stroke-width="1.3" stroke-linecap="butt"/>
<line x1="540.70" y1="358.50" x2="540.70" y2="365.10" stroke="#595959" stroke-width="1.3" stroke-linecap="butt"/>
<rect x="517.50" y="356.60" width="10.40" height="10.40" fill="#3278bb" stroke="#14202c" stroke-width="1.15"/>
<line x1="507.50" y1="366.00" x2="507.50" y2="390.10" stroke="#595959" stroke-width="1.3" stroke-linecap="butt"/>
<line x1="504.20" y1="366.00" x2="510.80" y2="366.00" stroke="#595959" stroke-width="1.3" stroke-linecap="butt"/>
<line x1="504.20" y1="390.10" x2="510.80" y2="390.10" stroke="#595959" stroke-width="1.3" stroke-linecap="butt"/>
<line x1="488.50" y1="378.00" x2="525.90" y2="378.00" stroke="#595959" stroke-width="1.3" stroke-linecap="butt"/>
<line x1="488.50" y1="374.70" x2="488.50" y2="381.30" stroke="#595959" stroke-width="1.3" stroke-linecap="butt"/>
<line x1="525.90" y1="374.70" x2="525.90" y2="381.30" stroke="#595959" stroke-width="1.3" stroke-linecap="butt"/>
<polygon points="507.50,373.17 512.33,378.00 507.50,382.83 502.67,378.00" fill="#578a3a" stroke="#1c2414" stroke-width="1.15"/>
<line x1="25.50" y1="430.40" x2="55.20" y2="430.40" stroke="#5b8f3a" stroke-width="1.3" stroke-linecap="butt"/>
<polygon points="40.30,427.25 43.45,430.40 40.30,433.55 37.15,430.40" fill="#578a3a" stroke="#1c2414" stroke-width="0.8"/>
<text x="58.50" y="433.70" font-size="10" text-anchor="start" fill="#595959" font-weight="bold" textLength="37" lengthAdjust="spacingAndGlyphs" stroke="#595959" stroke-width="0.3">BIODYN</text>
<line x1="107.30" y1="430.40" x2="136.60" y2="430.40" stroke="#3f84c8" stroke-width="1.3" stroke-linecap="butt"/>
<rect x="118.50" y="427.20" width="6.40" height="6.40" fill="#3278bb" stroke="#14202c" stroke-width="0.8"/>
<text x="140.80" y="433.70" font-size="10" text-anchor="start" fill="#595959" font-weight="bold" textLength="38" lengthAdjust="spacingAndGlyphs" stroke="#595959" stroke-width="0.3">BIOORG</text>
<line x1="190.00" y1="430.40" x2="218.20" y2="430.40" stroke="#c00000" stroke-width="1.6" stroke-linecap="butt" stroke-dasharray="4.4,3.5"/>
<circle cx="205.00" cy="430.40" r="3.20" fill="#c00000" stroke="#2a0808" stroke-width="0.9"/>
<text x="223.90" y="433.70" font-size="10" text-anchor="start" fill="#595959" font-weight="bold" textLength="41.5" lengthAdjust="spacingAndGlyphs" stroke="#595959" stroke-width="0.3">CONFYM</text>
<line x1="276.60" y1="430.40" x2="304.80" y2="430.40" stroke="#ffd966" stroke-width="1.6" stroke-linecap="butt" stroke-dasharray="4.4,3.5"/>
<polygon points="292.50,426.72 296.00,433.55 289.00,433.55" fill="#ffd966" stroke="#2a2a22" stroke-width="0.9" stroke-linejoin="miter"/>
<text x="310.40" y="433.70" font-size="10" text-anchor="start" fill="#595959" font-weight="bold" textLength="41.3" lengthAdjust="spacingAndGlyphs" stroke="#595959" stroke-width="0.3">CONMIN</text>
<text x="0.00" y="0.00" font-size="15" text-anchor="start" fill="#000" font-weight="bold" transform="translate(363.90 434.70) scale(0.92 1)" stroke="#000" stroke-width="0.3">E)</text>
<line x1="421.00" y1="435.30" x2="421.00" y2="578.30" stroke="#1e1e1e" stroke-width="1.6" stroke-linecap="butt"/>
<line x1="418.20" y1="577.70" x2="421.00" y2="577.70" stroke="#1e1e1e" stroke-width="1.6" stroke-linecap="butt"/>
<line x1="418.20" y1="562.80" x2="421.00" y2="562.80" stroke="#1e1e1e" stroke-width="1.6" stroke-linecap="butt"/>
<line x1="418.20" y1="547.90" x2="421.00" y2="547.90" stroke="#1e1e1e" stroke-width="1.6" stroke-linecap="butt"/>
<line x1="418.20" y1="533.00" x2="421.00" y2="533.00" stroke="#1e1e1e" stroke-width="1.6" stroke-linecap="butt"/>
<line x1="418.20" y1="518.10" x2="421.00" y2="518.10" stroke="#1e1e1e" stroke-width="1.6" stroke-linecap="butt"/>
<line x1="418.20" y1="503.20" x2="421.00" y2="503.20" stroke="#1e1e1e" stroke-width="1.6" stroke-linecap="butt"/>
<line x1="418.20" y1="488.30" x2="421.00" y2="488.30" stroke="#1e1e1e" stroke-width="1.6" stroke-linecap="butt"/>
<line x1="418.20" y1="473.40" x2="421.00" y2="473.40" stroke="#1e1e1e" stroke-width="1.6" stroke-linecap="butt"/>
<line x1="418.20" y1="458.50" x2="421.00" y2="458.50" stroke="#1e1e1e" stroke-width="1.6" stroke-linecap="butt"/>
<line x1="418.20" y1="443.60" x2="421.00" y2="443.60" stroke="#1e1e1e" stroke-width="1.6" stroke-linecap="butt"/>
<text x="0.00" y="0.00" font-size="11" text-anchor="end" fill="#7f7f7f" font-weight="normal" transform="translate(412.00 581.60) scale(0.9 1)">0</text>
<text x="0.00" y="0.00" font-size="11" text-anchor="end" fill="#7f7f7f" font-weight="normal" transform="translate(412.00 551.80) scale(0.9 1)">1</text>
<text x="0.00" y="0.00" font-size="11" text-anchor="end" fill="#7f7f7f" font-weight="normal" transform="translate(412.00 522.00) scale(0.9 1)">2</text>
<text x="0.00" y="0.00" font-size="11" text-anchor="end" fill="#7f7f7f" font-weight="normal" transform="translate(412.00 492.20) scale(0.9 1)">3</text>
<text x="0.00" y="0.00" font-size="11" text-anchor="end" fill="#7f7f7f" font-weight="normal" transform="translate(412.00 462.40) scale(0.9 1)">4</text>
<line x1="420.40" y1="577.70" x2="685.00" y2="577.70" stroke="#1e1e1e" stroke-width="1.6" stroke-linecap="butt"/>
<line x1="421.00" y1="577.70" x2="421.00" y2="581.60" stroke="#1e1e1e" stroke-width="1.6" stroke-linecap="butt"/>
<line x1="465.00" y1="577.70" x2="465.00" y2="581.60" stroke="#1e1e1e" stroke-width="1.6" stroke-linecap="butt"/>
<line x1="509.00" y1="577.70" x2="509.00" y2="581.60" stroke="#1e1e1e" stroke-width="1.6" stroke-linecap="butt"/>
<line x1="553.00" y1="577.70" x2="553.00" y2="581.60" stroke="#1e1e1e" stroke-width="1.6" stroke-linecap="butt"/>
<line x1="597.00" y1="577.70" x2="597.00" y2="581.60" stroke="#1e1e1e" stroke-width="1.6" stroke-linecap="butt"/>
<line x1="641.00" y1="577.70" x2="641.00" y2="581.60" stroke="#1e1e1e" stroke-width="1.6" stroke-linecap="butt"/>
<text x="443.40" y="596.00" font-size="10.5" text-anchor="middle" fill="#7f7f7f" font-weight="normal" textLength="20" lengthAdjust="spacingAndGlyphs">start</text>
<text x="443.40" y="608.40" font-size="10.5" text-anchor="middle" fill="#7f7f7f" font-weight="normal" textLength="23.8" lengthAdjust="spacingAndGlyphs">CRP1</text>
<text x="487.40" y="596.00" font-size="10.5" text-anchor="middle" fill="#7f7f7f" font-weight="normal" textLength="25" lengthAdjust="spacingAndGlyphs">mean</text>
<text x="487.40" y="608.40" font-size="10.5" text-anchor="middle" fill="#7f7f7f" font-weight="normal" textLength="23.8" lengthAdjust="spacingAndGlyphs">CRP2</text>
<text x="531.40" y="596.00" font-size="10.5" text-anchor="middle" fill="#7f7f7f" font-weight="normal" textLength="25" lengthAdjust="spacingAndGlyphs">mean</text>
<text x="531.40" y="608.40" font-size="10.5" text-anchor="middle" fill="#7f7f7f" font-weight="normal" textLength="23.8" lengthAdjust="spacingAndGlyphs">CRP3</text>
<text x="575.40" y="596.00" font-size="10.5" text-anchor="middle" fill="#7f7f7f" font-weight="normal" textLength="25" lengthAdjust="spacingAndGlyphs">mean</text>
<text x="575.40" y="608.40" font-size="10.5" text-anchor="middle" fill="#7f7f7f" font-weight="normal" textLength="23.8" lengthAdjust="spacingAndGlyphs">CRP4</text>
<text x="619.40" y="596.00" font-size="10.5" text-anchor="middle" fill="#7f7f7f" font-weight="normal" textLength="25" lengthAdjust="spacingAndGlyphs">mean</text>
<text x="619.40" y="608.40" font-size="10.5" text-anchor="middle" fill="#7f7f7f" font-weight="normal" textLength="23.8" lengthAdjust="spacingAndGlyphs">CRP5</text>
<text x="663.40" y="596.00" font-size="10.5" text-anchor="middle" fill="#7f7f7f" font-weight="normal" textLength="25" lengthAdjust="spacingAndGlyphs">mean</text>
<text x="663.40" y="608.40" font-size="10.5" text-anchor="middle" fill="#7f7f7f" font-weight="normal" textLength="23.8" lengthAdjust="spacingAndGlyphs">CRP6</text>
<text x="398.20" y="506.00" font-size="12" text-anchor="middle" fill="#141414" font-weight="bold" textLength="114.9" lengthAdjust="spacingAndGlyphs" transform="rotate(-90 398.20 506.00)" stroke="#141414" stroke-width="0.3">available P (mg kg<tspan baseline-shift="super" font-size="70%">-1</tspan>)</text>
<line x1="443.40" y1="449.20" x2="443.40" y2="468.00" stroke="#525252" stroke-width="1.35" stroke-linecap="butt"/>
<line x1="440.20" y1="449.20" x2="446.60" y2="449.20" stroke="#525252" stroke-width="1.35" stroke-linecap="butt"/>
<line x1="440.20" y1="468.00" x2="446.60" y2="468.00" stroke="#525252" stroke-width="1.35" stroke-linecap="butt"/>
<line x1="487.40" y1="451.00" x2="487.40" y2="466.20" stroke="#525252" stroke-width="1.35" stroke-linecap="butt"/>
<line x1="484.20" y1="451.00" x2="490.60" y2="451.00" stroke="#525252" stroke-width="1.35" stroke-linecap="butt"/>
<line x1="484.20" y1="466.20" x2="490.60" y2="466.20" stroke="#525252" stroke-width="1.35" stroke-linecap="butt"/>
<line x1="531.40" y1="453.90" x2="531.40" y2="463.30" stroke="#525252" stroke-width="1.35" stroke-linecap="butt"/>
<line x1="528.20" y1="453.90" x2="534.60" y2="453.90" stroke="#525252" stroke-width="1.35" stroke-linecap="butt"/>
<line x1="528.20" y1="463.30" x2="534.60" y2="463.30" stroke="#525252" stroke-width="1.35" stroke-linecap="butt"/>
<line x1="575.40" y1="454.30" x2="575.40" y2="462.80" stroke="#525252" stroke-width="1.35" stroke-linecap="butt"/>
<line x1="572.20" y1="454.30" x2="578.60" y2="454.30" stroke="#525252" stroke-width="1.35" stroke-linecap="butt"/>
<line x1="572.20" y1="462.80" x2="578.60" y2="462.80" stroke="#525252" stroke-width="1.35" stroke-linecap="butt"/>
<line x1="619.40" y1="455.00" x2="619.40" y2="462.50" stroke="#525252" stroke-width="1.35" stroke-linecap="butt"/>
<line x1="616.20" y1="455.00" x2="622.60" y2="455.00" stroke="#525252" stroke-width="1.35" stroke-linecap="butt"/>
<line x1="616.20" y1="462.50" x2="622.60" y2="462.50" stroke="#525252" stroke-width="1.35" stroke-linecap="butt"/>
<line x1="663.40" y1="454.30" x2="663.40" y2="462.80" stroke="#525252" stroke-width="1.35" stroke-linecap="butt"/>
<line x1="660.20" y1="454.30" x2="666.60" y2="454.30" stroke="#525252" stroke-width="1.35" stroke-linecap="butt"/>
<line x1="660.20" y1="462.80" x2="666.60" y2="462.80" stroke="#525252" stroke-width="1.35" stroke-linecap="butt"/>
<text x="0.00" y="0.00" font-size="8.3" text-anchor="middle" fill="#2e2e2e" font-weight="normal" transform="translate(440.10 483.10) scale(0.9 1)">n=12</text>
<text x="0.00" y="0.00" font-size="8.3" text-anchor="middle" fill="#2e2e2e" font-weight="normal" transform="translate(487.00 483.10) scale(0.9 1)">n=84</text>
<text x="0.00" y="0.00" font-size="8.3" text-anchor="middle" fill="#2e2e2e" font-weight="normal" transform="translate(532.00 483.10) scale(0.9 1)">n=84</text>
<text x="0.00" y="0.00" font-size="8.3" text-anchor="middle" fill="#2e2e2e" font-weight="normal" transform="translate(573.70 483.10) scale(0.9 1)">n=84</text>
<text x="0.00" y="0.00" font-size="8.3" text-anchor="middle" fill="#2e2e2e" font-weight="normal" transform="translate(616.60 483.10) scale(0.9 1)">n=60</text>
<text x="0.00" y="0.00" font-size="8.3" text-anchor="middle" fill="#2e2e2e" font-weight="normal" transform="translate(658.20 483.10) scale(0.9 1)">n=36</text>
<polyline points="443.40,503.00 487.40,534.00 531.40,548.40 575.40,549.00 619.40,550.00 663.40,547.20" fill="none" stroke="#5b8f3a" stroke-width="2.1" stroke-linejoin="round"/>
<polyline points="443.40,499.00 487.40,541.00 531.40,550.10 575.40,550.10 619.40,551.30 663.40,556.60" fill="none" stroke="#3f84c8" stroke-width="2.1" stroke-linejoin="round"/>
<polyline points="443.40,502.00 487.40,515.70 531.40,535.70 575.40,536.90 619.40,540.50 663.40,545.30" fill="none" stroke="#c00000" stroke-width="2.1" stroke-linejoin="round" stroke-dasharray="7,6.8"/>
<polyline points="487.40,551.60 531.40,551.30 575.40,550.80 619.40,545.30 663.40,550.10" fill="none" stroke="#ffd966" stroke-width="2.2" stroke-linejoin="round" stroke-dasharray="7,6.8"/>
<polygon points="443.40,498.80 447.60,503.00 443.40,507.20 439.20,503.00" fill="#578a3a" stroke="#1c2414" stroke-width="0.9"/>
<polygon points="487.40,529.80 491.60,534.00 487.40,538.20 483.20,534.00" fill="#578a3a" stroke="#1c2414" stroke-width="0.9"/>
<polygon points="531.40,544.20 535.60,548.40 531.40,552.60 527.20,548.40" fill="#578a3a" stroke="#1c2414" stroke-width="0.9"/>
<polygon points="575.40,544.80 579.60,549.00 575.40,553.20 571.20,549.00" fill="#578a3a" stroke="#1c2414" stroke-width="0.9"/>
<polygon points="619.40,545.80 623.60,550.00 619.40,554.20 615.20,550.00" fill="#578a3a" stroke="#1c2414" stroke-width="0.9"/>
<polygon points="663.40,543.00 667.60,547.20 663.40,551.40 659.20,547.20" fill="#578a3a" stroke="#1c2414" stroke-width="0.9"/>
<rect x="439.20" y="494.80" width="8.40" height="8.40" fill="#3278bb" stroke="#14202c" stroke-width="0.9"/>
<rect x="483.20" y="536.80" width="8.40" height="8.40" fill="#3278bb" stroke="#14202c" stroke-width="0.9"/>
<rect x="527.20" y="545.90" width="8.40" height="8.40" fill="#3278bb" stroke="#14202c" stroke-width="0.9"/>
<rect x="571.20" y="545.90" width="8.40" height="8.40" fill="#3278bb" stroke="#14202c" stroke-width="0.9"/>
<rect x="615.20" y="547.10" width="8.40" height="8.40" fill="#3278bb" stroke="#14202c" stroke-width="0.9"/>
<rect x="659.20" y="552.40" width="8.40" height="8.40" fill="#3278bb" stroke="#14202c" stroke-width="0.9"/>
<circle cx="443.40" cy="502.00" r="4.20" fill="#c00000" stroke="#2a0808" stroke-width="0.9"/>
<circle cx="487.40" cy="515.70" r="4.20" fill="#c00000" stroke="#2a0808" stroke-width="0.9"/>
<circle cx="531.40" cy="535.70" r="4.20" fill="#c00000" stroke="#2a0808" stroke-width="0.9"/>
<circle cx="575.40" cy="536.90" r="4.20" fill="#c00000" stroke="#2a0808" stroke-width="0.9"/>
<circle cx="619.40" cy="540.50" r="4.20" fill="#c00000" stroke="#2a0808" stroke-width="0.9"/>
<circle cx="663.40" cy="545.30" r="4.20" fill="#c00000" stroke="#2a0808" stroke-width="0.9"/>
<polygon points="443.40,501.50 447.40,509.30 439.40,509.30" fill="#ffd966" stroke="#2a2a22" stroke-width="0.9" stroke-linejoin="miter"/>
<polygon points="487.40,547.40 491.40,555.20 483.40,555.20" fill="#ffd966" stroke="#2a2a22" stroke-width="0.9" stroke-linejoin="miter"/>
<polygon points="531.40,547.10 535.40,554.90 527.40,554.90" fill="#ffd966" stroke="#2a2a22" stroke-width="0.9" stroke-linejoin="miter"/>
<polygon points="575.40,546.60 579.40,554.40 571.40,554.40" fill="#ffd966" stroke="#2a2a22" stroke-width="0.9" stroke-linejoin="miter"/>
<polygon points="619.40,541.10 623.40,548.90 615.40,548.90" fill="#ffd966" stroke="#2a2a22" stroke-width="0.9" stroke-linejoin="miter"/>
<polygon points="663.40,545.90 667.40,553.70 659.40,553.70" fill="#ffd966" stroke="#2a2a22" stroke-width="0.9" stroke-linejoin="miter"/>
</svg></body></html>
